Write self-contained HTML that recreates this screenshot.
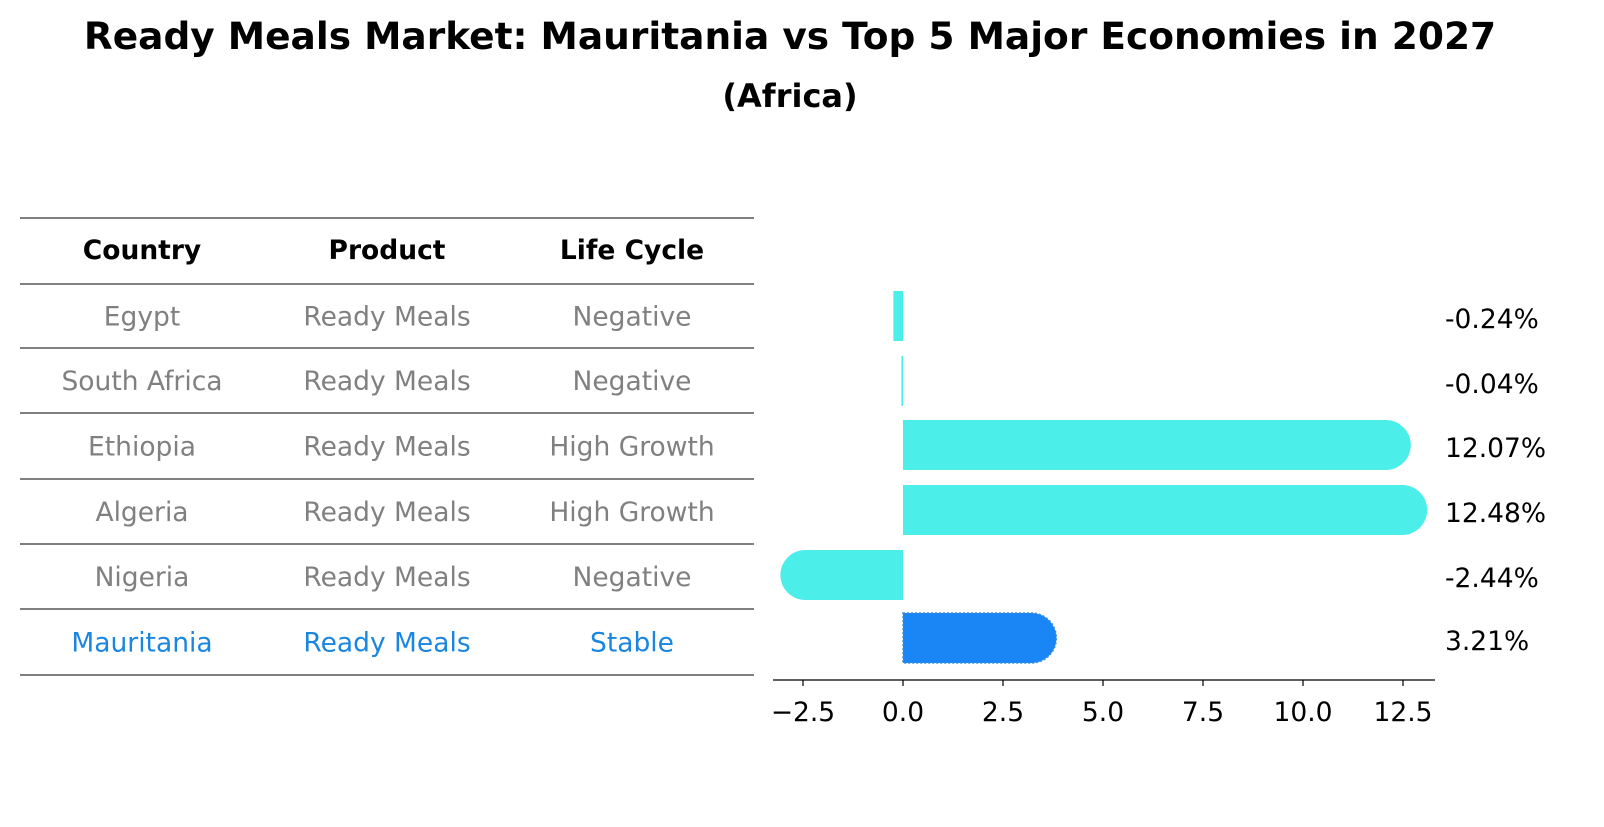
<!DOCTYPE html>
<html><head><meta charset="utf-8"><style>
body{margin:0;background:#fff;width:1604px;height:823px;overflow:hidden;font-family:"DejaVu Sans","Liberation Sans",sans-serif;}
</style></head><body>
<svg width="1604" height="823" xmlns="http://www.w3.org/2000/svg" font-family="DejaVu Sans, Liberation Sans, sans-serif">
<text x="790" y="49" text-anchor="middle" font-size="37.5" font-weight="bold">Ready Meals Market: Mauritania vs Top 5 Major Economies in 2027</text>
<text x="790" y="107" text-anchor="middle" font-size="32" font-weight="bold">(Africa)</text>
<g id="table"></g>
<g id="bars"></g>
</svg>
<script>
const countries=["Egypt","South Africa","Ethiopia","Algeria","Nigeria","Mauritania"];
const products=["Ready Meals","Ready Meals","Ready Meals","Ready Meals","Ready Meals","Ready Meals"];
const lifeCycles=["Negative","Negative","High Growth","High Growth","Negative","Stable"];
const growth=[-0.24,-0.04,12.07,12.48,-2.44,3.21];
const xTicks=[-2.5,0.0,2.5,5.0,7.5,10.0,12.5];
const NS="http://www.w3.org/2000/svg";
function mk(tag,attrs,parent){const e=document.createElementNS(NS,tag);for(const k in attrs)e.setAttribute(k,attrs[k]);parent.appendChild(e);return e;}
const FS=26.5;
const tbl=document.getElementById('table');
const lineYs=[218,284,348,413,479,544,609,675];
for(const y of lineYs){const l=mk('line',{x1:20,x2:754,y1:y,y2:y,stroke:'#000','stroke-width':1},tbl);

}
const colX=[142,387,632];
const heads=["Country","Product","Life Cycle"];
heads.forEach((h,i)=>{const t=mk('text',{x:colX[i],y:259,'text-anchor':'middle','font-size':FS,'font-weight':'bold'},tbl);t.textContent=h;

});
countries.forEach((c,r)=>{const cy=(lineYs[r+1]+lineYs[r+2])/2+9.5;const col=r===countries.length-1?'#1a86e0':'#808080';
[c,products[r],lifeCycles[r]].forEach((v,i)=>{const t=mk('text',{x:colX[i],y:cy,'text-anchor':'middle','font-size':FS,fill:col},tbl);t.textContent=v;

});});
const g=document.getElementById('bars');
const x0=903,ppu=40;const X=v=>x0+v*ppu;
const rowY=[316,381,445,510,575,638];const bh=50;
growth.forEach((v,i)=>{const last=i===growth.length-1;const fill=last?'#1a85f5':'#4beee8';
const y=rowY[i]-bh/2;const xs=X(0),xe=X(v);let d;
if(Math.abs(v)<0.5){const w=Math.max(Math.abs(xe-xs),1.6);d=`M${Math.min(xs,xe)},${y}h${w}v${bh}h${-w}z`;}
else if(v>0){d=`M${xs},${y}H${xe}A${bh/2},${bh/2} 0 0 1 ${xe},${y+bh}H${xs}z`;}
else{d=`M${xs},${y}H${xe}A${bh/2},${bh/2} 0 0 0 ${xe},${y+bh}H${xs}z`;}
const p=mk('path',{d:d,fill:fill},g);if(last){p.setAttribute('stroke','#3a8fe0');p.setAttribute('stroke-dasharray','2,2');p.setAttribute('stroke-width','1.5');}


const t=mk('text',{x:1445,y:rowY[i]+12,'font-size':FS},g);t.textContent=v.toFixed(2)+'%';

});
const ax=mk('line',{x1:773,x2:1435,y1:680,y2:680,stroke:'#000','stroke-width':1.3},g);


xTicks.forEach(v=>{const tk=mk('line',{x1:X(v),x2:X(v),y1:680,y2:686,stroke:'#000','stroke-width':1.2},g);


const t=mk('text',{x:X(v),y:721,'text-anchor':'middle','font-size':FS},g);t.textContent=v<0?'\u2212'+Math.abs(v).toFixed(1):v.toFixed(1);

});
</script>
</body></html>
